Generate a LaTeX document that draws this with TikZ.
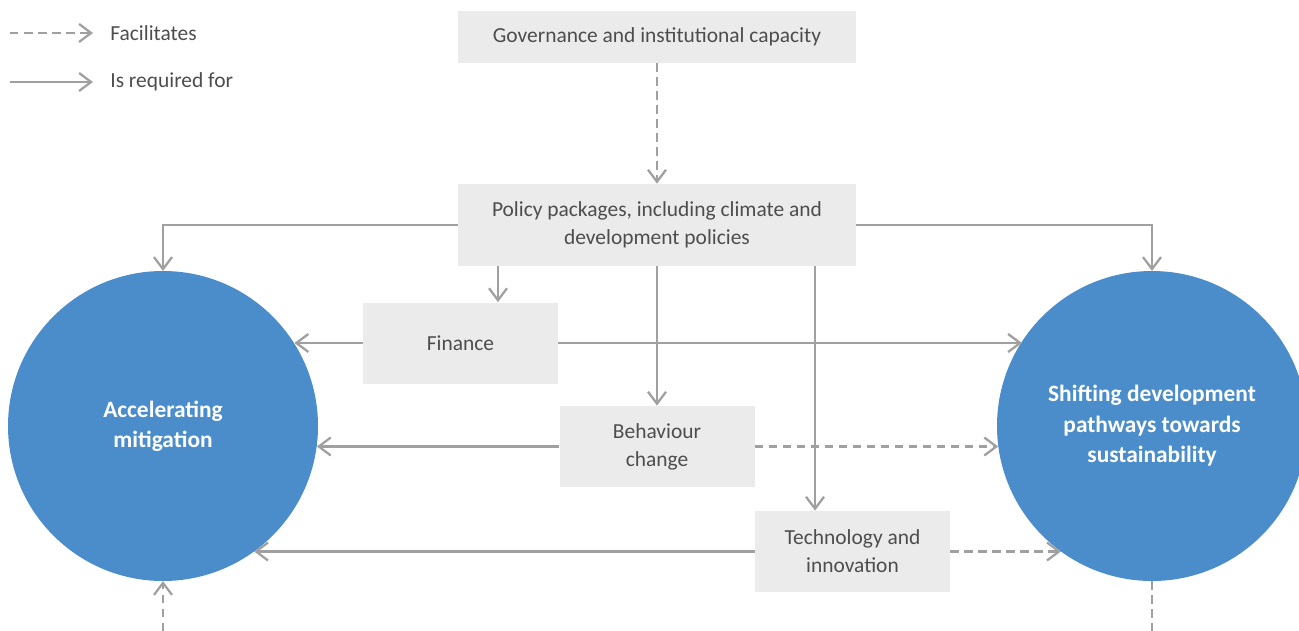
\documentclass[tikz,border=0pt]{standalone}
\usepackage{fontspec}
\setmainfont{Carlito}
\usepackage{xcolor}
\usetikzlibrary{positioning, arrows.meta, calc}

\definecolor{boxgray}{HTML}{EAEBEA}
\definecolor{linegray}{HTML}{A0A0A0}
\definecolor{textgray}{HTML}{4D4D4D}
\definecolor{circblue}{HTML}{4A8DCA}

\begin{document}
\begin{tikzpicture}[
        box/.style={rectangle, fill=boxgray, text=textgray, align=center, inner sep=0pt, font=\fontsize{12.2}{16}\selectfont},
        wide/.style={box, minimum width=7.96cm},
        small/.style={box, minimum width=3.9cm, minimum height=1.62cm},
        goal/.style={circle, fill=circblue, text=white, align=center, inner sep=0pt, outer sep=0pt, minimum size=6.2cm, font=\fontsize{13.3}{17.3}\selectfont\bfseries},
        arrow/.style={-{Straight Barb[length=2.4mm, width=3.6mm]}, line width=1.3pt, draw=linegray},
        dasharrow/.style={arrow, dash pattern=on 0.17cm off 0.11cm},
        dashline/.style={line width=1.3pt, draw=linegray, dash pattern=on 0.17cm off 0.11cm},
        legend/.style={anchor=west, text=textgray, inner sep=0pt, font=\fontsize{12.2}{16}\selectfont}
    ]
    \useasboundingbox (0,0) rectangle (25.98,-12.62);

    % legend
    \coordinate (ldash0) at (0.2,-0.66);
    \coordinate (ldash1) at (1.86,-0.66);
    \coordinate (lsolid0) at (0.2,-1.64);
    \coordinate (lsolid1) at (1.86,-1.64);
    \draw[dasharrow] (ldash0) -- (ldash1);
    \draw[arrow] (lsolid0) -- (lsolid1);
    \node[legend] (lfac) at (2.2,-0.66) {Facilitates};
    \node[legend] (lreq) at (2.2,-1.64) {Is required for};

    % boxes
    \node[wide, minimum height=1.04cm] (gov) at (13.14,-0.74) {Governance and institutional capacity};
    \node[wide, minimum height=1.64cm] (policy) at (13.14,-4.50) {Policy packages, including climate and\\development policies};
    \node[small] (fin) at (9.21,-6.86) {Finance};
    \node[small] (beh) at (13.14,-8.93) {Behaviour\\change};
    \node[small] (tech) at (17.05,-11.03) {Technology and\\innovation};

    % circles
    \node[goal] (accel) at (3.26,-8.52) {Accelerating\\mitigation};
    \node[goal] (shift) at (23.04,-8.52) {Shifting development\\pathways towards\\sustainability};

    \draw[dasharrow] (gov) -- (policy);
    \draw[arrow] (policy.west) -| (accel.north);
    \draw[arrow] (policy.east) -| (shift.north);

    \coordinate (pfin) at ([xshift=-3.18cm]policy.south);
    \coordinate (ptech) at ([xshift=3.16cm]policy.south);
    \draw[arrow] (pfin) -- (pfin |- fin.north);
    \draw[arrow] (policy.south) -- (beh.north);
    \draw[arrow] (ptech) -- (ptech |- tech.north);

    \draw[arrow] (fin.west) -- (fin.west -| accel.32.4);
    \draw[arrow] (fin.east) -- (fin.east -| shift.147.6);
    \draw[arrow] (beh.west) -- (beh.west -| accel.-7.8);
    \draw[dasharrow] (beh.east) -- (beh.east -| shift.187.8);
    \draw[arrow] (tech.west) -- (tech.west -| accel.-54.4);
    \draw[dasharrow] (tech.east) -- (tech.east -| shift.234.4);

    \coordinate (accelin) at (3.26,-12.62);
    \coordinate (shiftout) at (23.04,-12.62);
    \draw[dasharrow] (accelin) -- (accel.south);
    \draw[dashline] (shift.south) -- (shiftout);

\end{tikzpicture}
\end{document}
